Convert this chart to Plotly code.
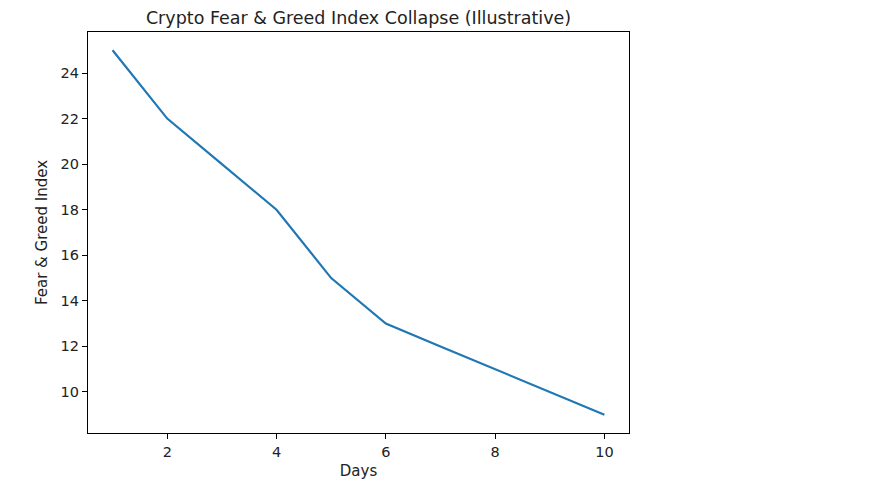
import plotly.graph_objects as go

days = [1, 2, 3, 4, 5, 6, 7, 8, 9, 10]
fear_greed = [25, 22, 20, 18, 15, 13, 12, 11, 10, 9]
x_ticks = [2, 4, 6, 8, 10]
y_ticks = [10, 12, 14, 16, 18, 20, 22, 24]

fig = go.Figure()
fig.add_trace(go.Scatter(x=days, y=fear_greed, mode="lines",
                         line=dict(color="#1f77b4", width=2.2)))

axis_common = dict(showline=True, linecolor="black", linewidth=1.2, mirror=True,
                   ticks="outside", ticklen=5, tickwidth=1.2, tickcolor="black",
                   showgrid=False, zeroline=False,
                   tickfont=dict(family="DejaVu Sans", size=14.5, color="#222"))

# page body has an 8px default margin, so the figure is shrunk by 8px
W, H = 864, 483
fig.update_layout(
    width=W, height=H,
    margin=dict(l=80, r=243, t=24, b=58),
    paper_bgcolor="white", plot_bgcolor="white",
    showlegend=False,
    font=dict(family="DejaVu Sans", color="#222"),
    title=dict(text="Crypto Fear & Greed Index Collapse (Illustrative)",
               x=(80 + (W - 243)) / 2 / W, xanchor="center",
               y=1 - 10 / H, yanchor="middle",
               font=dict(size=17.5, color="#222")),
    xaxis=dict(range=[0.55, 10.45], tickvals=x_ticks,
               title=dict(text="Days", font=dict(size=15), standoff=6),
               **axis_common),
    yaxis=dict(range=[8.2, 25.8], tickvals=y_ticks,
               title=dict(text="Fear & Greed Index", font=dict(size=15), standoff=9),
               **axis_common),
)

fig.write_html("out.html")
